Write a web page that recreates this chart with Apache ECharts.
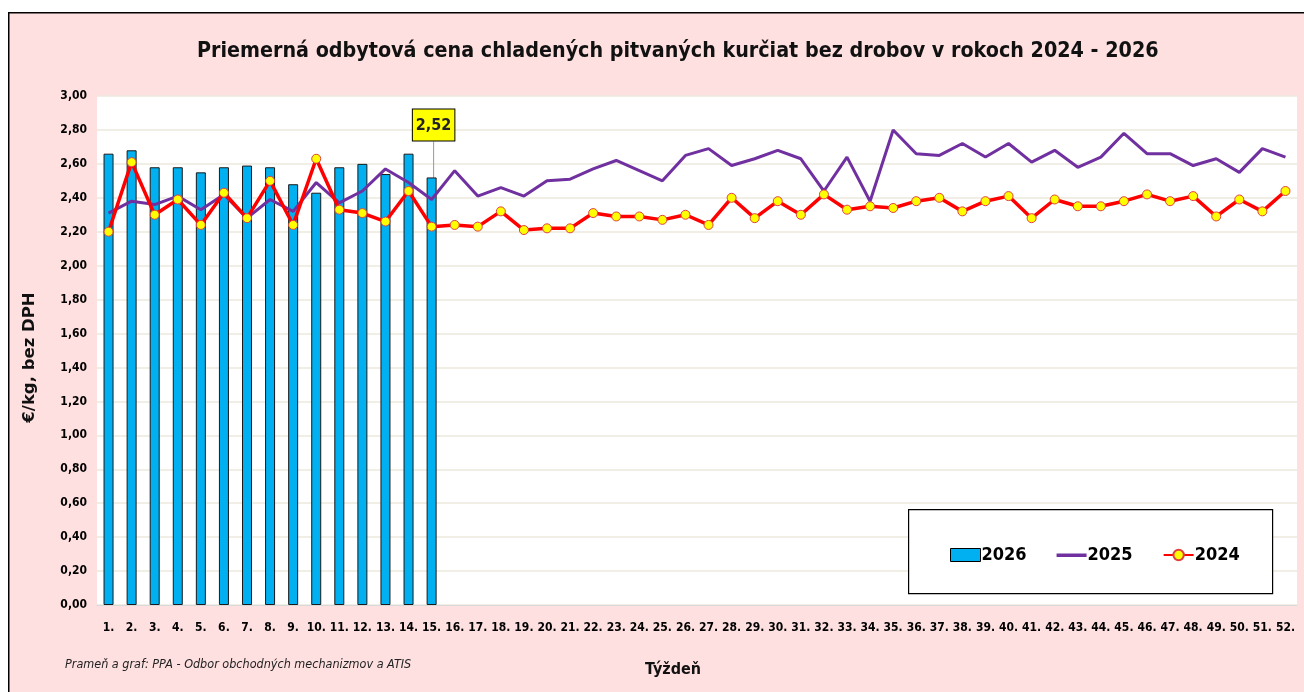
<!DOCTYPE html>
<html><head><meta charset="utf-8">
<script src="https://cdn.jsdelivr.net/npm/echarts@6/dist/echarts.min.js"></script>
<style>html,body{margin:0;padding:0;background:#fff}#c{width:1304px;height:692px}</style>
</head><body><div id="c"></div>
<script>
const titleText = 'Priemerná odbytová cena chladených pitvaných kurčiat bez drobov v rokoch 2024 - 2026';
const yAxisName = '€/kg, bez DPH';
const xAxisName = 'Týždeň';
const sourceText = 'Prameň a graf: PPA - Odbor obchodných mechanizmov a ATIS';
const weeks = Array.from({length:52},(_,i)=>(i+1)+'.');
const s2026 = [2.66,2.68,2.58,2.58,2.55,2.58,2.59,2.58,2.48,2.43,2.58,2.60,2.54,2.66,2.52];
const s2025 = [2.31,2.38,2.36,2.41,2.33,2.42,2.28,2.39,2.32,2.49,2.37,2.44,2.57,2.49,2.39,
  2.56,2.41,2.46,2.41,2.50,2.51,2.57,2.62,2.56,2.50,2.65,2.69,2.59,2.63,2.68,2.63,2.44,2.64,2.38,
  2.80,2.66,2.65,2.72,2.64,2.72,2.61,2.68,2.58,2.64,2.78,2.66,2.66,2.59,2.63,2.55,2.69,2.64];
const s2024 = [2.20,2.61,2.30,2.39,2.24,2.43,2.28,2.50,2.24,2.63,2.33,2.31,2.26,2.44,2.23,
  2.24,2.23,2.32,2.21,2.22,2.22,2.31,2.29,2.29,2.27,2.30,2.24,2.40,2.28,2.38,2.30,2.42,2.33,2.35,
  2.34,2.38,2.40,2.32,2.38,2.41,2.28,2.39,2.35,2.35,2.38,2.42,2.38,2.41,2.29,2.39,2.32,2.44];
const yTicks = {min:0, max:3, interval:0.2};

const FONT = "'Liberation Sans Narrow','DejaVu Sans Condensed','Open Sans',sans-serif";
const chart = echarts.init(document.getElementById('c'));
const fmt = v => v.toFixed(2).replace('.', ',');
const barData = s2026.map((v,i)=> i===s2026.length-1 ? {
  value:v,
  label:{show:true, formatter:p=>fmt(p.value), position:'top', distance:2,
    backgroundColor:'#FFFF00', borderColor:'#000', borderWidth:1, padding:[8,3,7,3],
    fontFamily:FONT, fontWeight:'bold', fontSize:16, color:'#222'},
  labelLine:{show:true, lineStyle:{color:'#999', width:1}}
} : v);

chart.setOption({
  backgroundColor:'#fff',
  animation:false,
  graphic:[
    {type:'rect', left:8, top:12, shape:{width:1300, height:690}, style:{fill:'#FFE0E0', stroke:'#000', lineWidth:1.5}, z:-10},
    {type:'rect', left:908, top:509, shape:{width:364, height:84}, style:{fill:'#fff', stroke:'#000', lineWidth:1.2}, z:5},
    {type:'text', left:65, top:658, style:{text:sourceText, font:"italic 12.5px "+FONT, fill:'#222'}, z:6}
  ],
  title:{text:titleText, left:192, top:36,
    textStyle:{fontFamily:FONT, fontWeight:'bold', fontSize:21.3, color:'#111'}},
  grid:{left:97, right:7, top:96, bottom:87, show:true, backgroundColor:'#fff', borderWidth:0},
  legend:{left:945, top:541, itemGap:30, itemWidth:30, itemHeight:13, z:10,
    textStyle:{fontFamily:FONT, fontWeight:'bold', fontSize:18, color:'#000', padding:[0,0,0,-4]},
    data:[
      {name:'2026', icon:'rect', itemStyle:{borderColor:'#000', borderWidth:1}},
      {name:'2025', icon:'path://M0,0 L30,0 Z M0,13 L30,13 Z M0,5 L30,5 L30,8.5 L0,8.5 Z', itemStyle:{color:'#7030A0', borderWidth:0}},
      {name:'2024'}
    ]},
  xAxis:{type:'category', data:weeks, name:xAxisName, nameLocation:'middle', nameGap:57,
    nameTextStyle:{fontFamily:FONT, fontWeight:'bold', fontSize:16, color:'#111', padding:[0,48,0,0]},
    axisLine:{show:true, lineStyle:{color:'#D9D9D9'}}, axisTick:{show:false},
    axisLabel:{interval:0, fontFamily:FONT, fontWeight:'bold', fontSize:12, color:'#000', margin:17}},
  yAxis:{type:'value', min:yTicks.min, max:yTicks.max, interval:yTicks.interval,
    name:yAxisName, nameLocation:'middle', nameGap:59, nameRotate:90,
    nameTextStyle:{fontFamily:"'DejaVu Sans',sans-serif", fontWeight:'bold', fontSize:16.5, color:'#111', padding:[0,14,0,0]},
    axisLine:{show:false}, axisTick:{show:false},
    splitLine:{lineStyle:{color:'#EDE9DE', width:1.5}},
    axisLabel:{formatter:fmt, fontFamily:FONT, fontWeight:'bold', fontSize:12, color:'#000', margin:10}},
  series:[
    {name:'2026', type:'bar', data:barData, barWidth:10, z:2,
      itemStyle:{color:'#00B0F0', borderColor:'#1a1a1a', borderWidth:1},
      labelLayout:p=> p.dataIndex===s2026.length-1 ? {x:p.rect.x+p.rect.width/2+2, y:p.rect.y-37, align:'center', verticalAlign:'bottom'} : {},
      emphasis:{disabled:true}},
    {name:'2025', type:'line', data:s2025, symbol:'none', z:3,
      lineStyle:{color:'#7030A0', width:3}, itemStyle:{color:'#7030A0'}},
    {name:'2024', type:'line', data:s2024, symbol:'circle', symbolSize:9, z:4,
      lineStyle:{color:'#FF0000', width:3.5},
      itemStyle:{color:'#FFFF00', borderColor:'#E04040', borderWidth:1}}
  ]
});
</script></body></html>
